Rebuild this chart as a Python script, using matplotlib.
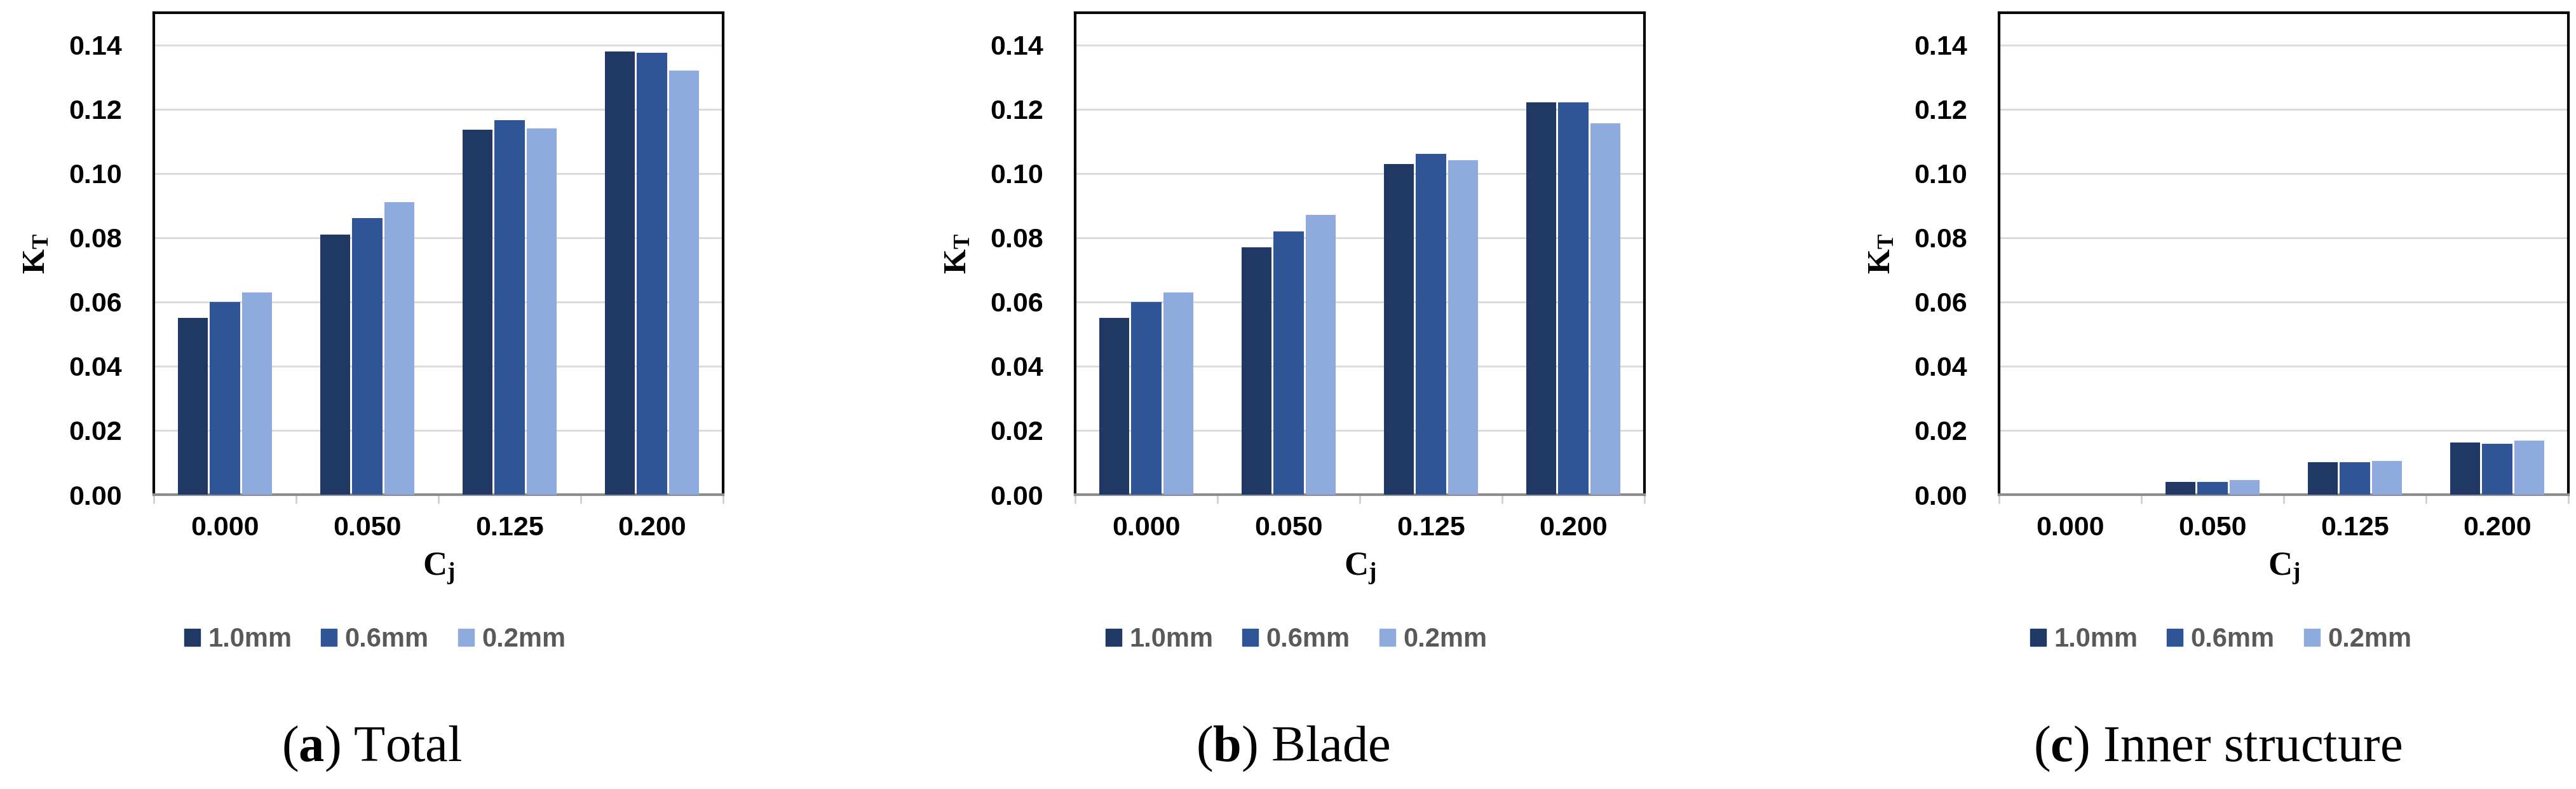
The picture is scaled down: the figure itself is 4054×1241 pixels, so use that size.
import matplotlib
matplotlib.use("Agg")
import matplotlib.pyplot as plt
import numpy as np
from matplotlib.patches import Patch

categories = ["0.000", "0.050", "0.125", "0.200"]
series_labels = ["1.0mm", "0.6mm", "0.2mm"]
total = [[0.055, 0.081, 0.1135, 0.138],
         [0.060, 0.086, 0.1165, 0.1375],
         [0.063, 0.091, 0.114, 0.132]]
blade = [[0.055, 0.077, 0.103, 0.122],
         [0.060, 0.082, 0.106, 0.122],
         [0.063, 0.087, 0.104, 0.1155]]
inner = [[0.0, 0.004, 0.010, 0.0162],
         [0.0, 0.004, 0.010, 0.0158],
         [0.0, 0.0045, 0.0105, 0.0168]]
panels = [total, blade, inner]
captions = [("a", " Total"), ("b", " Blade"), ("c", " Inner structure")]
yticks = [0.00, 0.02, 0.04, 0.06, 0.08, 0.10, 0.12, 0.14]
colors = ["#203864", "#2F5597", "#8FAADC"]

plt.rcParams['mathtext.fontset'] = 'custom'
plt.rcParams['mathtext.bf'] = 'Liberation Sans:bold'
plt.rcParams['mathtext.rm'] = 'Liberation Sans:bold'
plt.rcParams['font.family'] = ['Liberation Sans', 'DejaVu Sans']

W, H = 4054, 1241
fig = plt.figure(figsize=(W/100, H/100), dpi=100)
lefts = [242, 1692, 3146]
cap_x = [585, 2035, 3490]
for i, data in enumerate(panels):
    ax = fig.add_axes([lefts[i]/W, 1-778/H, 896/W, (778-20)/H])
    x = np.arange(len(categories))
    w = 0.21
    for j, vals in enumerate(data):
        ax.bar(x + (j-1)*0.225, vals, w, color=colors[j], zorder=3)
    ax.set_xlim(-0.5, 3.5)
    ax.set_ylim(0, 0.150)
    ax.set_yticks(yticks)
    ax.set_yticklabels([f"{v:.2f}" for v in yticks], fontsize=31, fontweight='bold')
    ax.set_xticks(x)
    ax.set_xticklabels(categories, fontsize=31, fontweight='bold')
    ax.set_xticks([-0.5, 0.5, 1.5, 2.5, 3.5], minor=True)
    ax.tick_params(axis='y', length=0, pad=36)
    ax.tick_params(axis='x', which='major', length=0, pad=24)
    ax.tick_params(axis='x', which='minor', length=10, color='#d0d0d0', width=2)
    ax.grid(axis='y', color='#d9d9d9', linewidth=2, zorder=0)
    for s in ['left', 'top', 'right']:
        ax.spines[s].set_color('black'); ax.spines[s].set_linewidth(3)
    ax.spines['bottom'].set_color('#8c8c8c'); ax.spines['bottom'].set_linewidth(3)
    ax.set_ylabel(r'$\mathbf{K_T}$', fontsize=36, labelpad=20)
    ax.set_xlabel(r'$\mathbf{C_j}$', fontsize=38, labelpad=12)
    handles = [Patch(color=c) for c in colors]
    ax.legend(handles, series_labels, loc='center', bbox_to_anchor=((cap_x[i]+5-lefts[i])/896, (778-1006)/758),
              ncol=3, frameon=False, handlelength=0.6, handleheight=0.6, handletextpad=0.3,
              columnspacing=1.1, prop={'family': 'Liberation Sans', 'weight': 'bold', 'size': 30},
              labelcolor='#595959')
    fig.text(cap_x[i]/W, 1-1197/H, "(" , fontsize=60, family='Liberation Serif', ha='right', va='baseline') if False else None
    t = fig.text(cap_x[i]/W, 1-1197/H, r"(" + r"$\mathbf{" + captions[i][0] + r"}$" + ")" + captions[i][1],
                 fontsize=58, family='Liberation Serif', ha='center', va='baseline')
plt.rcParams['mathtext.bf'] = 'Liberation Serif:bold'
fig.savefig("out.png", dpi=100)
